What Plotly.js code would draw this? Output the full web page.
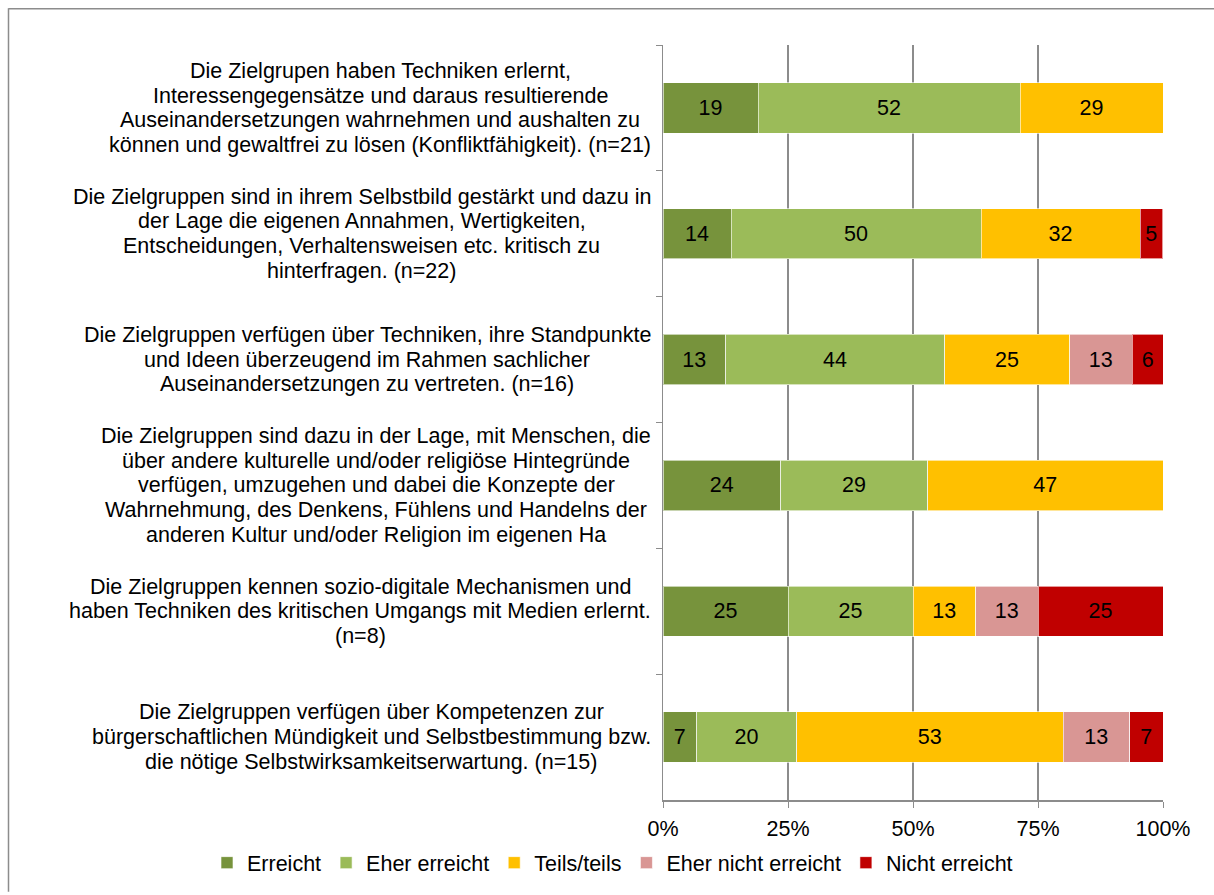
<!DOCTYPE html>
<html>
<head>
<meta charset="utf-8">
<script src="https://cdn.plot.ly/plotly-3.0.1.min.js"></script>
<style>
  html, body { margin: 0; padding: 0; background: #fff; }
  #chart { width: 1214px; height: 895px; }
</style>
</head>
<body>
<div id="chart"></div>
<script>
// Category labels (top to bottom)
const categories = [
  "Die Zielgrupen haben Techniken erlernt,<br>Interessengegensätze und daraus resultierende<br>Auseinandersetzungen wahrnehmen und aushalten zu<br>können und gewaltfrei zu lösen (Konfliktfähigkeit). (n=21)",
  "Die Zielgruppen sind in ihrem Selbstbild gestärkt und dazu in<br>der Lage die eigenen Annahmen, Wertigkeiten,<br>Entscheidungen, Verhaltensweisen etc. kritisch zu<br>hinterfragen. (n=22)",
  "Die Zielgruppen verfügen über Techniken, ihre Standpunkte<br>und Ideen überzeugend im Rahmen sachlicher<br>Auseinandersetzungen zu vertreten. (n=16)",
  "Die Zielgruppen sind dazu in der Lage, mit Menschen, die<br>über andere kulturelle und/oder religiöse Hintegründe<br>verfügen, umzugehen und dabei die Konzepte der<br>Wahrnehmung, des Denkens, Fühlens und Handelns der<br>anderen Kultur und/oder Religion im eigenen Ha",
  "Die Zielgruppen kennen sozio-digitale Mechanismen und<br>haben Techniken des kritischen Umgangs mit Medien erlernt.<br>(n=8)",
  "Die Zielgruppen verfügen über Kompetenzen zur<br>bürgerschaftlichen Mündigkeit und Selbstbestimmung bzw.<br>die nötige Selbstwirksamkeitserwartung. (n=15)"
];
const catKeys = ["K1", "K2", "K3", "K4", "K5", "K6"];

// Series values (percent)
const erreicht          = [19.0, 13.6, 12.5, 23.5, 25.0,  6.7];
const eherErreicht      = [52.4, 50.0, 43.8, 29.4, 25.0, 20.0];
const teilsTeils        = [28.6, 31.8, 25.0, 47.1, 12.5, 53.3];
const eherNichtErreicht = [ 0,    0,   12.5,  0,   12.5, 13.3];
const nichtErreicht     = [ 0,    4.5,  6.3,  0,   25.0,  6.7];

// Data labels as shown
const lblErreicht          = ["19", "14", "13", "24", "25", "7"];
const lblEherErreicht      = ["52", "50", "44", "29", "25", "20"];
const lblTeilsTeils        = ["29", "32", "25", "47", "13", "53"];
const lblEherNichtErreicht = ["", "", "13", "", "13", "13"];
const lblNichtErreicht     = ["", "5", "6", "", "25", "7"];

const seriesNames = ["Erreicht", "Eher erreicht", "Teils/teils", "Eher nicht erreicht", "Nicht erreicht"];
const seriesColors = ["#77933C", "#9BBB59", "#FFC000", "#D99694", "#C00000"];
const seriesValues = [erreicht, eherErreicht, teilsTeils, eherNichtErreicht, nichtErreicht];
const seriesLabels = [lblErreicht, lblEherErreicht, lblTeilsTeils, lblEherNichtErreicht, lblNichtErreicht];

const xTickVals = [0, 25, 50, 75, 100];
const xTickText = ["0%", "25%", "50%", "75%", "100%"];

const FONT = "Liberation Sans, Arial, sans-serif";
const FS = 21.5;
const LINE_H = 24.7;

const traces = seriesNames.map((name, i) => ({
  type: "bar",
  orientation: "h",
  name: name,
  y: catKeys,
  x: seriesValues[i],
  text: seriesLabels[i],
  textposition: "inside",
  insidetextanchor: "middle",
  textangle: 0,
  constraintext: "none",
  textfont: { family: FONT, size: FS, color: "#000" },
  marker: { color: seriesColors[i], line: { color: "rgba(255,255,255,0.6)", width: 1 } },
  hoverinfo: "x+name"
}));

// measure text to centre each label block like the reference
const ctx = document.createElement("canvas").getContext("2d");
ctx.font = FS + "px 'Liberation Sans', Arial, sans-serif";
const annotations = [];
catKeys.forEach((k, i) => {
  const lines = categories[i].split("<br>");
  const maxW = Math.max(...lines.map(s => ctx.measureText(s).width));
  const n = lines.length;
  lines.forEach((line, j) => {
    annotations.push({
      xref: "paper", yref: "y",
      x: 0, y: k,
      xanchor: "center", yanchor: "middle",
      xshift: -12 - maxW / 2,
      yshift: -(j - (n - 1) / 2) * LINE_H,
      showarrow: false,
      borderpad: 0,
      text: line,
      font: { family: FONT, size: FS, color: "#000" }
    });
  });
});

const layout = {
  width: 1214, height: 895,
  margin: { l: 663, r: 51, t: 45, b: 92 },
  paper_bgcolor: "#fff",
  plot_bgcolor: "#fff",
  barmode: "stack",
  bargap: 0.6,
  font: { family: FONT, size: FS, color: "#000" },
  xaxis: {
    range: [0, 100],
    tickvals: xTickVals,
    ticktext: xTickText,
    showgrid: true,
    gridcolor: "#8C8C8C",
    gridwidth: 1.5,
    showline: true,
    linecolor: "#8C8C8C",
    linewidth: 1.5,
    ticks: "outside",
    ticklen: 6,
    tickcolor: "#8C8C8C",
    ticklabelstandoff: 3,
    tickfont: { family: FONT, size: FS, color: "#000" },
    zeroline: false,
    fixedrange: true
  },
  yaxis: {
    type: "category",
    autorange: "reversed",
    showticklabels: false,
    showgrid: false,
    showline: true,
    linecolor: "#8C8C8C",
    linewidth: 1.5,
    ticks: "outside",
    tickson: "boundaries",
    ticklen: 6,
    tickcolor: "#8C8C8C",
    zeroline: false,
    fixedrange: true
  },
  showlegend: true,
  legend: {
    orientation: "h",
    xref: "paper", yref: "paper",
    x: -0.912, xanchor: "left",
    y: -0.083, yanchor: "middle",
    traceorder: "normal",
    itemwidth: 30,
    itemgap: 15,
    font: { family: FONT, size: FS, color: "#000" }
  },
  annotations: annotations,
  shapes: [
    { type: "line", xref: "paper", yref: "paper",
      x0: (8.5 - 663) / 500, x1: (8.5 - 663) / 500,
      y0: 1 + (45 - 8) / 758, y1: -(895 - 803) / 758,
      line: { color: "#8C8C8C", width: 1.5 } },
    { type: "line", xref: "paper", yref: "paper",
      x0: (8.5 - 663) / 500, x1: (1214 - 663) / 500,
      y0: 1 + (45 - 8.5) / 758, y1: 1 + (45 - 8.5) / 758,
      line: { color: "#8C8C8C", width: 1.5 } }
  ]
};

Plotly.newPlot("chart", traces, layout, { displayModeBar: false, staticPlot: true });
</script>
</body>
</html>
